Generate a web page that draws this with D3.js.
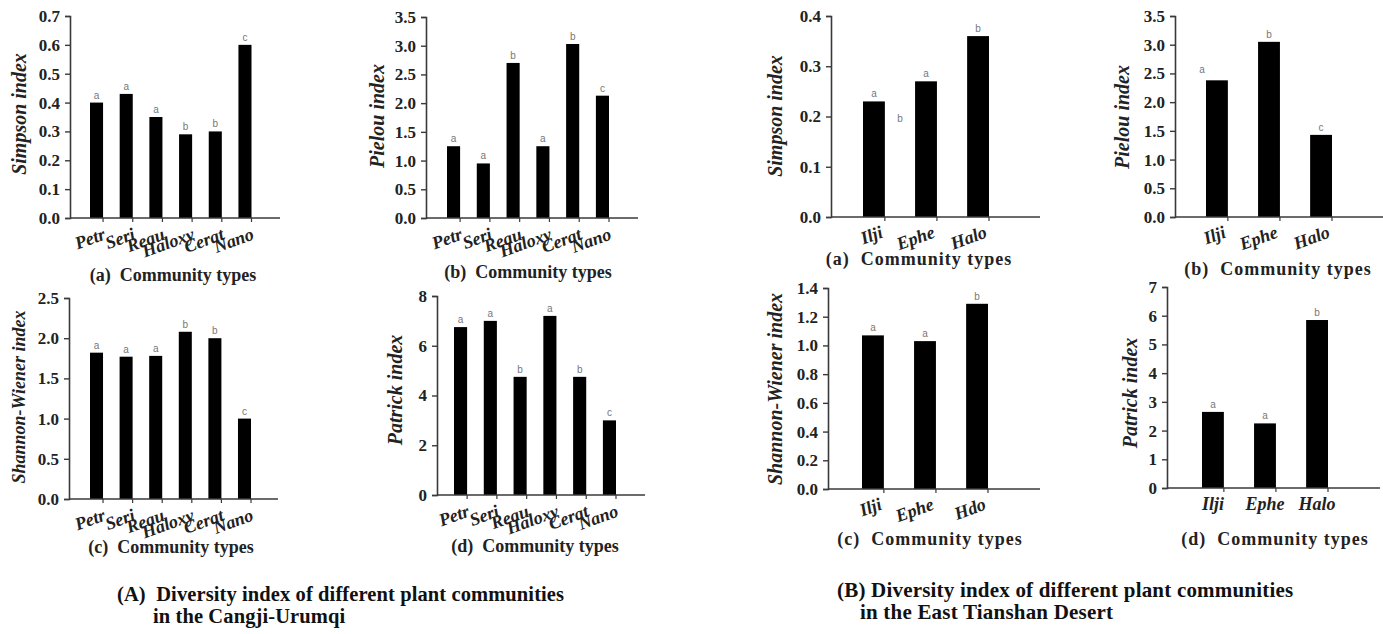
<!DOCTYPE html>
<html>
<head>
<meta charset="utf-8">
<script src="https://cdn.jsdelivr.net/npm/d3@7"></script>
<style>
  html, body { margin: 0; padding: 0; background: #fff; }
  svg { display: block; }
</style>
</head>
<body>
<svg id="chart" width="1383" height="634"></svg>
<script>
// ---------------- DATA ----------------
const catsA = ["Petr", "Seri", "Reau", "Haloxy", "Cerat", "Nano"];
const simpsonA = [0.40, 0.43, 0.35, 0.29, 0.30, 0.60];
const simpsonALetters = ["a", "a", "a", "b", "b", "c"];
const pielouA = [1.25, 0.95, 2.70, 1.25, 3.03, 2.13];
const pielouALetters = ["a", "a", "b", "a", "b", "c"];
const shannonA = [1.82, 1.77, 1.78, 2.08, 2.00, 1.00];
const shannonALetters = ["a", "a", "a", "b", "b", "c"];
const patrickA = [6.75, 7.00, 4.75, 7.20, 4.75, 3.00];
const patrickALetters = ["a", "a", "b", "a", "b", "c"];

const catsB = ["Ilji", "Ephe", "Halo"];
const catsBLabelsC = ["Ilji", "Ephe", "Hdo"];
const simpsonB = [0.23, 0.27, 0.36];
const simpsonBLetters = ["a", "a", "b"];
const pielouB = [2.38, 3.05, 1.43];
const pielouBLetters = ["", "b", "c"];
const shannonB = [1.07, 1.03, 1.29];
const shannonBLetters = ["a", "a", "b"];
const patrickB = [2.65, 2.25, 5.85];
const patrickBLetters = ["a", "a", "b"];

const ticksSimpsonA = [0.0, 0.1, 0.2, 0.3, 0.4, 0.5, 0.6, 0.7];
const ticksPielou = [0.0, 0.5, 1.0, 1.5, 2.0, 2.5, 3.0, 3.5];
const ticksShannonA = [0.0, 0.5, 1.0, 1.5, 2.0, 2.5];
const ticksPatrickA = [0, 2, 4, 6, 8];
const ticksSimpsonB = [0.0, 0.1, 0.2, 0.3, 0.4];
const ticksShannonB = [0.0, 0.2, 0.4, 0.6, 0.8, 1.0, 1.2, 1.4];
const ticksPatrickB = [0, 1, 2, 3, 4, 5, 6, 7];

// stray significance letters drawn off-bar in the original
const strayB_a = [{ after: "Ilji", value: 0.19, text: "b" }];
const strayB_b = [{ leftOf: "Ilji", value: 2.50, text: "a" }];

const titleA = ["(A)  Diversity index of different plant communities", "in the Cangji-Urumqi"];
const titleB = ["(B) Diversity index of different plant communities", "in the East Tianshan Desert"];

// ---------------- DRAW ----------------
const svg = d3.select("#chart");
const SERIF = "'Liberation Serif', 'Times New Roman', serif";
const AXIS = "#3a3a3a";

function panel(o) {
  const g = svg.append("g");
  const x = d3.scaleBand().domain(o.cats).range(o.band).paddingInner(o.pad).paddingOuter(0);
  const y = d3.scaleLinear().domain([0, o.ticks[o.ticks.length - 1]]).range([o.yBot, o.yTop]);

  // bars
  g.selectAll("rect.bar").data(o.values).join("rect")
    .attr("x", (d, i) => x(o.cats[i]))
    .attr("y", d => y(d))
    .attr("width", x.bandwidth())
    .attr("height", d => y(0) - y(d))
    .attr("fill", "#000");

  // y axis
  const yAxis = d3.axisLeft(y).tickValues(o.ticks).tickSize(5).tickPadding(5)
    .tickFormat(o.fmt);
  const ga = g.append("g").attr("transform", `translate(${o.axisX},0)`).call(yAxis);
  ga.attr("font-family", SERIF);
  ga.select(".domain").attr("stroke", AXIS).attr("stroke-width", 1.6);
  ga.selectAll(".tick line").attr("stroke", AXIS).attr("stroke-width", 1.4);
  ga.selectAll(".tick text")
    .attr("font-family", SERIF).attr("font-weight", "bold").attr("font-size", 17)
    .attr("fill", "#222");

  // x axis line
  g.append("line").attr("x1", o.axisX).attr("x2", o.xEnd)
    .attr("y1", y(0)).attr("y2", y(0))
    .attr("stroke", AXIS).attr("stroke-width", 1.6);
  // small tick marks at bar right edges
  g.selectAll("line.xt").data(o.cats).join("line")
    .attr("x1", d => x(d) + x.bandwidth()).attr("x2", d => x(d) + x.bandwidth())
    .attr("y1", y(0)).attr("y2", y(0) + 4)
    .attr("stroke", AXIS).attr("stroke-width", 1.2);

  // x category labels
  const labs = o.labels || o.cats;
  g.selectAll("text.xl").data(labs).join("text")
    .attr("transform", (d, i) => {
      const cx = x(o.cats[i]) + x.bandwidth() / 2;
      return o.flat ? `translate(${cx},${y(0) + 22})`
                    : `translate(${cx + o.lx},${y(0) + o.ly}) rotate(-20)`;
    })
    .attr("text-anchor", o.flat ? "middle" : "end")
    .attr("font-family", SERIF).attr("font-style", "italic").attr("font-weight", "bold")
    .attr("font-size", 18).attr("fill", "#222")
    .text(d => d);

  // significance letters
  g.selectAll("text.sig").data(o.letters).join("text")
    .attr("x", (d, i) => x(o.cats[i]) + x.bandwidth() / 2)
    .attr("y", (d, i) => y(o.values[i]) - 4)
    .attr("text-anchor", "middle")
    .attr("font-family", "'Liberation Sans', Arial, sans-serif").attr("font-size", 10)
    .attr("fill", "#777")
    .text(d => d);
  (o.stray || []).forEach(s => {
    let sx;
    if (s.after) sx = x(s.after) + x.bandwidth() / 2 + x.step() / 2;
    else sx = x(s.leftOf) - 4;
    g.append("text").attr("x", sx).attr("y", y(s.value))
      .attr("text-anchor", "middle")
      .attr("font-family", "'Liberation Sans', Arial, sans-serif").attr("font-size", 10)
      .attr("fill", "#777").text(s.text);
  });

  // y title
  g.append("text")
    .attr("transform", `translate(${o.tx},${o.ty}) rotate(-90)`)
    .attr("text-anchor", "middle").attr("dy", "0.35em")
    .attr("font-family", SERIF).attr("font-style", "italic").attr("font-weight", "bold")
    .attr("font-size", o.tsize || 20).attr("fill", "#222")
    .text(o.title);

  // subtitle
  g.append("text")
    .attr("x", o.sx).attr("y", o.sy).attr("text-anchor", "middle")
    .attr("font-family", SERIF).attr("font-weight", "bold").attr("font-size", 18)
    .attr("letter-spacing", o.ls || 0)
    .attr("fill", "#222").style("white-space", "pre")
    .text(o.sub);
}

const f1 = d3.format(".1f"), f0 = d3.format("d");

panel({ cats: catsA, values: simpsonA, letters: simpsonALetters, ticks: ticksSimpsonA, fmt: f1,
  axisX: 70, yTop: 16, yBot: 218, xEnd: 280, band: [90, 251.5], pad: 0.56, lx: 10, ly: 21,
  title: "Simpson index", tx: 19, ty: 114, sub: "(a)  Community types", sx: 173, sy: 281 });
panel({ cats: catsA, values: pielouA, letters: pielouALetters, ticks: ticksPielou, fmt: f1,
  axisX: 426, yTop: 17, yBot: 218, xEnd: 638, band: [447, 609], pad: 0.56, lx: 10, ly: 21,
  title: "Pielou index", tx: 377, ty: 116, sub: "(b)  Community types", sx: 528, sy: 278 });
panel({ cats: catsA, values: shannonA, letters: shannonALetters, ticks: ticksShannonA, fmt: f1,
  axisX: 69, yTop: 298, yBot: 499, xEnd: 278, band: [90, 251], pad: 0.56, lx: 10, ly: 21,
  title: "Shannon-Wiener index", tsize: 18, tx: 19, ty: 397, sub: "(c)  Community types", sx: 171, sy: 553 });
panel({ cats: catsA, values: patrickA, letters: patrickALetters, ticks: ticksPatrickA, fmt: f0,
  axisX: 437, yTop: 296, yBot: 495, xEnd: 645, band: [454, 616], pad: 0.56, lx: 10, ly: 21,
  title: "Patrick index", tx: 395, ty: 390, sub: "(d)  Community types", sx: 535, sy: 552 });

panel({ cats: catsB, values: simpsonB, letters: simpsonBLetters, ticks: ticksSimpsonB, fmt: f1,
  axisX: 831, yTop: 16, yBot: 217, xEnd: 1040, band: [863, 989], pad: 0.58, lx: 10, ly: 20,
  stray: strayB_a,
  title: "Simpson index", tx: 775, ty: 116, sub: "(a)  Community types", sx: 919, sy: 265, ls: 1 });
panel({ cats: catsB, values: pielouB, letters: pielouBLetters, ticks: ticksPielou, fmt: f1,
  axisX: 1175, yTop: 16, yBot: 217, xEnd: 1383, band: [1206, 1332], pad: 0.58, lx: 10, ly: 20,
  stray: strayB_b,
  title: "Pielou index", tx: 1122, ty: 117, sub: "(b)  Community types", sx: 1278, sy: 275, ls: 1 });
panel({ cats: catsB, labels: catsBLabelsC, values: shannonB, letters: shannonBLetters, ticks: ticksShannonB, fmt: f1,
  axisX: 828, yTop: 288, yBot: 489, xEnd: 1040, band: [862, 988], pad: 0.58, lx: 10, ly: 20,
  title: "Shannon-Wiener index", tx: 775, ty: 389, sub: "(c)  Community types", sx: 930, sy: 545, ls: 1 });
panel({ cats: catsB, values: patrickB, letters: patrickBLetters, ticks: ticksPatrickB, fmt: f0,
  axisX: 1167, yTop: 287, yBot: 488, xEnd: 1380, band: [1202, 1328], pad: 0.58, flat: true,
  title: "Patrick index", tx: 1130, ty: 393, sub: "(d)  Community types", sx: 1275, sy: 545, ls: 1 });

// big titles
function bigTitle(lines, x, x2, y1, y2, size, ls) {
  const t = svg.append("text").attr("font-family", SERIF).attr("font-weight", "bold")
    .attr("font-size", size).attr("letter-spacing", ls)
    .attr("fill", "#111").style("white-space", "pre");
  t.append("tspan").attr("x", x).attr("y", y1).text(lines[0]);
  t.append("tspan").attr("x", x2).attr("y", y2).text(lines[1]);
}
bigTitle(titleA, 117, 153, 601, 623, 20.5, 0.1);
bigTitle(titleB, 837, 860, 597, 619, 21, 0.2);
</script>
</body>
</html>
